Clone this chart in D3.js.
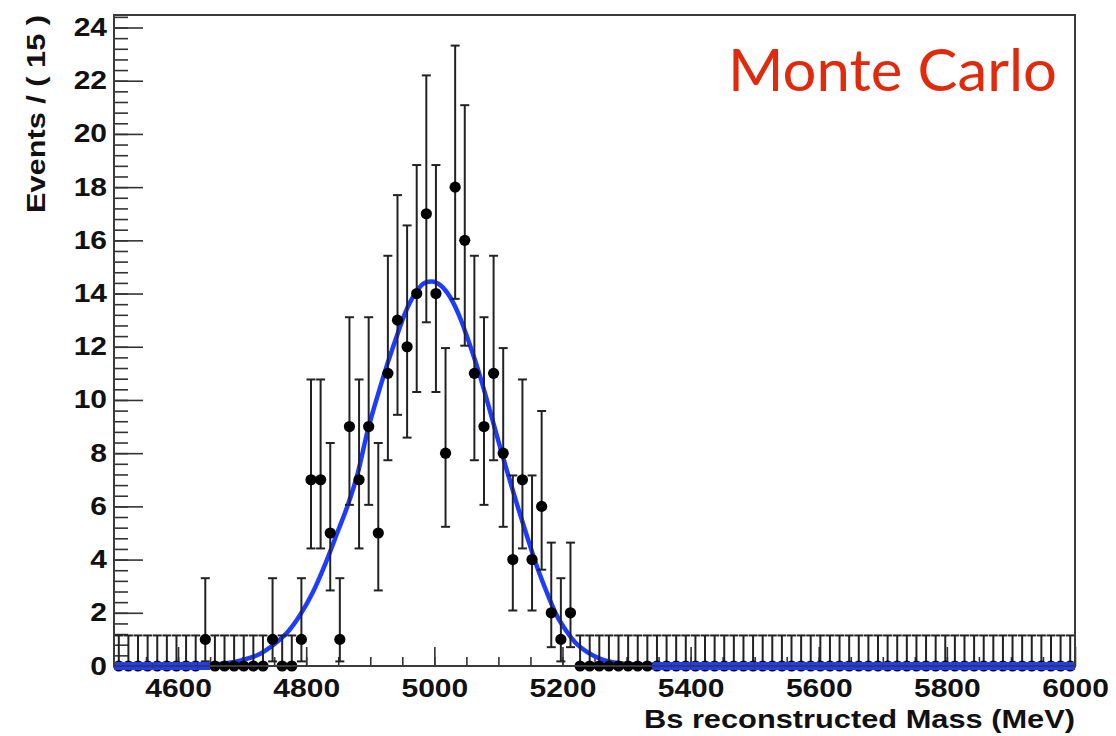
<!DOCTYPE html>
<html><head><meta charset="utf-8">
<script src="https://cdn.jsdelivr.net/npm/d3@7"></script>
<style>body{margin:0;background:#fff} svg{display:block}</style>
</head><body>
<svg id="chart" width="1116" height="736"></svg>
<script>
// ---- data ----
const binStart = 4500, binWidth = 15;
const counts = [
  0,0,0,0,0,0,0,0,0,1,
  0,0,0,0,0,0,1,0,0,1,
  7,7,5,1,9,7,9,5,11,13,
  12,14,17,14,8,18,16,11,9,11,
  8,4,7,4,6,2,1,2,0,0,
  0,0,0,0,0,0,0,0,0,0,
  0,0,0,0,0,0,0,0,0,0,
  0,0,0,0,0,0,0,0,0,0,
  0,0,0,0,0,0,0,0,0,0,
  0,0,0,0,0,0,0,0,0,0
];
// Poisson 68% interval bounds indexed by count
const poissonLow  = [0,0.173,0.708,1.367,2.086,2.840,3.620,4.419,5.232,6.057,6.891,7.734,8.585,9.441,10.30,11.17,12.04,12.92,13.80];
const poissonHigh = [1.148,3.300,4.638,5.918,7.163,8.382,9.584,10.77,11.95,13.11,14.27,15.42,16.56,17.70,18.83,19.96,21.08,22.20,23.32];
// fitted curve
const fitMass  = [4500,4560,4600,4630,4650,4675,4700,4725,4750,4770,4790,4810,4830,4850,4865,4880,4896,4912,4926,4940,4955,4970,4985,4996,5010,5025,5040,5055,5070,5085,5100,5115,5130,5145,5160,5175,5190,5205,5220,5240,5260,5280,5300,5320,5340,5370,5400,5500,5700,6000];
const fitValue = [0,0,0.01,0.02,0.045,0.1,0.22,0.42,0.82,1.25,1.9,2.75,3.85,5.1,6.05,7.2,8.85,10.2,11.3,12.3,13.3,14.0,14.4,14.45,14.3,13.85,13.1,12.1,11.0,9.75,8.45,7.2,6.0,4.85,3.75,2.8,1.95,1.35,0.88,0.5,0.26,0.13,0.075,0.055,0.02,0.01,0,0,0,0];
const xTickLabels = [4600,4800,5000,5200,5400,5600,5800,6000];
const yTickLabels = [0,2,4,6,8,10,12,14,16,18,20,22,24];
const xTitle = "Bs reconstructed Mass (MeV)";
const yTitle = "Events / ( 15 )";
const note = "Monte Carlo";

// ---- layout ----
const svg = d3.select("#chart");
const L = 114, R = 1075, T = 15, B = 666;
const x = d3.scaleLinear().domain([4500, 6000]).range([L, R]);
const y = d3.scaleLinear().domain([0, 24.47]).range([B, T]);
const font = "'Liberation Sans', Arial, Helvetica, sans-serif";
const ink = "#222";
const blue = "#1e3cff";
const stretch = 1.2;

const bins = counts.map((n, i) => ({
  m: binStart + binWidth * (i + 0.5), n,
  lo: poissonLow[n], hi: poissonHigh[n]
}));

// axes
function styleAxis(g) {
  g.select(".domain").remove();
  g.selectAll(".tick line").attr("stroke", "#333").attr("stroke-width", 1.6);
  g.selectAll("text").attr("font-family", font).attr("font-weight", "bold")
    .attr("font-size", 25).attr("fill", "#111");
}
// x minor
svg.append("g").attr("transform", `translate(0,${B})`)
  .call(d3.axisBottom(x).tickValues(d3.range(4550, 6000, 50)).tickSize(-9).tickFormat(""))
  .call(styleAxis);
// x major
const gx = svg.append("g").attr("transform", `translate(0,${B})`)
  .call(d3.axisBottom(x).tickValues(xTickLabels).tickSize(-19).tickPadding(13).tickFormat(d3.format("d")))
  .call(styleAxis);
gx.selectAll("text").attr("transform", `scale(${stretch},1)`);
// y minor
svg.append("g").attr("transform", `translate(${L},0)`)
  .call(d3.axisLeft(y).tickValues(d3.range(0, 24.41, 0.4)).tickSize(-14).tickFormat(""))
  .call(styleAxis);
// y major
const gy = svg.append("g").attr("transform", `translate(${L},0)`)
  .call(d3.axisLeft(y).tickValues(yTickLabels).tickSize(-29).tickPadding(7).tickFormat(d3.format("d")))
  .call(styleAxis);
gy.selectAll("text").attr("x", -7 / stretch).attr("transform", `scale(${stretch},1)`);

// fit curve
const line = d3.line().x((d, i) => x(fitMass[i])).y(d => y(d)).curve(d3.curveMonotoneX);
svg.append("path").attr("d", line(fitValue)).attr("fill", "none")
  .attr("stroke", blue).attr("stroke-width", 4.5).attr("stroke-linejoin", "round");

// error bars
const cap = 4.5;
const eb = svg.append("g").attr("stroke", ink).attr("stroke-width", 2);
bins.forEach(d => {
  const cx = x(d.m);
  eb.append("line").attr("x1", cx).attr("x2", cx).attr("y1", y(d.lo)).attr("y2", y(d.hi));
  eb.append("line").attr("x1", cx - cap).attr("x2", cx + cap).attr("y1", y(d.hi)).attr("y2", y(d.hi));
  if (d.n > 0) eb.append("line").attr("x1", cx - cap).attr("x2", cx + cap).attr("y1", y(d.lo)).attr("y2", y(d.lo));
});
// markers
svg.append("g").selectAll("circle").data(bins).join("circle")
  .attr("cx", d => x(d.m)).attr("cy", d => y(d.n)).attr("r", 5.6).attr("fill", "#000");

// curve along baseline where it is negligible (drawn over empty-bin markers)
const base = svg.append("g").attr("stroke", blue).attr("stroke-width", 8);
for (let i = 0; i < fitMass.length - 1; i++) {
  if (fitValue[i] < 0.05 && fitValue[i + 1] < 0.05) {
    base.append("line").attr("x1", x(fitMass[i])).attr("x2", x(fitMass[i + 1]))
      .attr("y1", y(0)).attr("y2", y(0));
  }
}

// frame
svg.append("rect").attr("x", L).attr("y", T).attr("width", R - L).attr("height", B - T)
  .attr("fill", "none").attr("stroke", "#3a3a3a").attr("stroke-width", 2);

// titles
svg.append("text").attr("x", R).attr("y", 728).attr("text-anchor", "end")
  .attr("font-family", font).attr("font-weight", "bold").attr("font-size", 25)
  .attr("textLength", 431).attr("lengthAdjust", "spacingAndGlyphs").attr("fill", "#111")
  .text(xTitle);
svg.append("text").attr("transform", `translate(45,${T}) rotate(-90)`).attr("text-anchor", "end")
  .attr("font-family", font).attr("font-weight", "bold").attr("font-size", 25)
  .attr("textLength", 198).attr("lengthAdjust", "spacingAndGlyphs").attr("fill", "#111")
  .text(yTitle);
svg.append("text").attr("x", 728).attr("y", 91)
  .attr("font-family", "Lato, 'Open Sans', sans-serif").attr("font-size", 59)
  .attr("textLength", 329).attr("lengthAdjust", "spacingAndGlyphs").attr("fill", "#e1290c")
  .text(note);
</script>
</body></html>
